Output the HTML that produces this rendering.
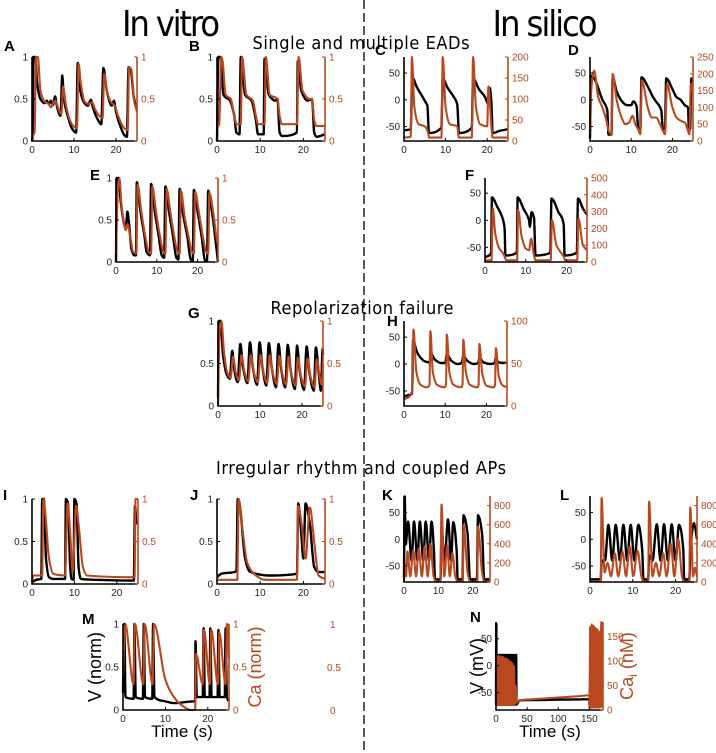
<!DOCTYPE html>
<html><head><meta charset="utf-8">
<style>
html,body{margin:0;padding:0;background:#fff;}
svg{display:block;font-family:"Liberation Sans","DejaVu Sans",sans-serif;}
</style></head>
<body>
<svg id="fig" width="716" height="753" viewBox="0 0 716 753" xmlns="http://www.w3.org/2000/svg">
<rect width="716" height="753" fill="#fff"/>
<line x1="364" y1="0" x2="364" y2="753" stroke="#000" stroke-width="1.3" stroke-dasharray="9,4"/>
<text x="171" y="36" font-size="36" text-anchor="middle" font-family="DejaVu Sans Condensed, DejaVu Sans, sans-serif" textLength="98">In vitro</text>
<text x="545" y="36" font-size="36" text-anchor="middle" font-family="DejaVu Sans Condensed, DejaVu Sans, sans-serif" textLength="105">In silico</text>
<text x="361" y="49" font-size="18" text-anchor="middle" font-family="DejaVu Sans Condensed, DejaVu Sans, sans-serif" textLength="217">Single and multiple EADs</text>
<text x="362" y="314" font-size="18" text-anchor="middle" font-family="DejaVu Sans Condensed, DejaVu Sans, sans-serif" textLength="183">Repolarization failure</text>
<text x="361" y="474" font-size="18" text-anchor="middle" font-family="DejaVu Sans Condensed, DejaVu Sans, sans-serif" textLength="290">Irregular rhythm and coupled APs</text>
<g id="panels"></g>
<text transform="translate(101,667) rotate(-90)" font-size="18" text-anchor="middle">V (norm)</text>
<text transform="translate(261,667) rotate(-90)" font-size="18" text-anchor="middle" fill="#b9481f">Ca (norm)</text>
<text x="182" y="737" font-size="17" text-anchor="middle">Time (s)</text>
<text x="330" y="628" font-size="10" fill="#b9481f">1</text>
<text x="327" y="671" font-size="10" fill="#b9481f">0.5</text>
<text x="330" y="714" font-size="10" fill="#b9481f">0</text>
<text transform="translate(483,666) rotate(-90)" font-size="18" text-anchor="middle">V (mV)</text>
<text transform="translate(633,666) rotate(-90)" font-size="18" text-anchor="middle" fill="#b9481f">Ca<tspan font-size="12" dy="4">i</tspan><tspan dy="-4"> (nM)</tspan></text>
<text x="550" y="737" font-size="17" text-anchor="middle">Time (s)</text>
</svg>
<script>
const xTicks = [0, 10, 20];
const nXTicks = [0, 50, 100, 150];
const normTicks = [0, 0.5, 1];
const mvTicks = [-50, 0, 50];
const cTicksR = [0, 50, 100, 150, 200];
const dTicksR = [0, 50, 100, 150, 200, 250];
const fTicksR = [0, 100, 200, 300, 400, 500];
const hTicksR = [0, 50, 100];
const klTicksR = [0, 200, 400, 600, 800];
const nTicksR = [0, 50, 100, 150];

const aBlack = [[0,0],[0.2,0.1],[0.3,1],[0.8,1],[1.2,0.7],[2,0.5],[3,0.45],[3.5,0.48],[4,0.44],[4.5,0.48],[5,0.43],[5.5,0.53],[6,0.4],[6.8,0.3],[7.2,0.78],[7.6,0.5],[8.5,0.3],[9.5,0.15],[10.5,0.1],[10.9,0.93],[11.5,0.6],[12.5,0.45],[13.3,0.42],[14,0.49],[14.5,0.4],[15.5,0.27],[16.5,0.2],[17,0.87],[17.8,0.6],[19,0.42],[19.5,0.48],[20,0.35],[21,0.18],[22,0.07],[22.6,0.05],[23,0.88],[23.5,0.85],[24.3,0.5],[25,0.38]];
const aOrange = [[0,0.05],[0.6,0.1],[1,1],[1.4,1],[2,0.6],[3,0.47],[4,0.44],[4.5,0.4],[5,0.45],[5.6,0.48],[6.3,0.38],[7,0.32],[7.4,0.65],[8,0.45],[9,0.25],[10,0.17],[10.7,0.15],[11.1,0.92],[11.6,0.7],[12.5,0.47],[13.5,0.44],[14.3,0.46],[15,0.38],[16,0.3],[16.8,0.27],[17.2,0.8],[17.8,0.6],[19,0.45],[19.6,0.43],[20.5,0.3],[22,0.15],[22.8,0.13],[23.1,0.88],[23.6,0.86],[24.4,0.45],[25,0.35]];
const bBlack = [[0,0],[0.3,1],[0.8,1],[1.5,0.55],[3,0.48],[4,0.3],[4.5,0.1],[5.2,0.08],[5.5,1],[6.5,0.55],[8,0.48],[9,0.25],[9.5,0.08],[10.8,0.08],[11,0.98],[12,0.55],[13.5,0.48],[14,0.5],[14.5,0.1],[15,0.06],[18.5,0.1],[18.7,0.95],[19.5,0.6],[21,0.48],[22,0.5],[22.5,0.1],[23,0.05],[25,0.08]];
const bOrange = [[0,0.15],[0.5,0.2],[1,1],[1.3,0.95],[2,0.55],[3.2,0.5],[4,0.3],[4.5,0.2],[5.5,0.2],[5.8,1],[6.8,0.55],[8.3,0.48],[9,0.3],[9.5,0.2],[11,0.2],[11.3,1],[12.2,0.55],[14,0.5],[14.5,0.3],[15,0.2],[18.5,0.2],[18.9,1],[19.8,0.6],[21.5,0.5],[22,0.5],[22.5,0.25],[23,0.18],[25,0.18]];
const cBlack = [[0,-57],[1.6,-55],[2.0,42],[3,25],[4.5,5],[5.3,-6],[5.6,-10],[6,-62],[9,-52],[9.3,40],[10.5,22],[12,5],[12.8,-8],[13.2,-62],[16.3,-52],[16.6,40],[18,20],[19.5,5],[20,-5],[20.3,-8],[20.6,22],[21,-5],[21.3,-62],[23,-58],[25,-55]];
const cOrange = [[0,8],[1.6,10],[1.9,200],[2.5,80],[3.5,40],[5,35],[5.8,20],[6,8],[9,8],[9.3,200],[10,80],[11,40],[12.8,35],[13.2,8],[16.3,8],[16.6,200],[17.3,80],[18.3,40],[20,35],[20.3,130],[21,35],[21.3,8],[25,8]];
const dBlack = [[0,-72],[0.3,45],[1,40],[3,0],[4.2,-20],[4.5,-65],[5.2,-65],[5.5,42],[6.5,15],[8,-5],[9,-10],[10,-10],[10.5,-3],[11.3,-12],[11.7,-55],[12.2,-55],[12.5,42],[14,25],[15.3,5],[16,-3],[17.3,-20],[17.7,-55],[18.2,-55],[18.5,40],[20,20],[21,5],[22,0],[23,-10],[23.8,-15],[24,-55],[24.3,-55],[24.6,40],[25,35]];
const dOrange = [[0,20],[0.3,150],[1,210],[2,130],[3,100],[4,60],[4.5,30],[5.2,20],[5.5,200],[6.5,120],[8,60],[8.5,50],[9.5,55],[10.3,75],[11,50],[11.7,35],[12.2,20],[12.6,180],[14,100],[15,70],[16,70],[17,50],[17.7,30],[18.2,20],[18.7,170],[20,100],[21,70],[22,60],[23,55],[23.8,30],[24.1,20],[24.5,170],[25,150]];
const eBlack = [[0,0],[0.2,1],[0.6,1],[1.2,0.7],[2,0.45],[2.4,0.4],[2.8,0.6],[3.2,0.45],[3.8,0.15],[4.5,0.08],[4.9,0.08],[5.1,0.95],[6,0.6],[7,0.3],[7.5,0.12],[8.3,0.08],[8.6,0.93],[9.5,0.6],[10.5,0.3],[11.2,0.08],[11.8,0.05],[12.1,0.9],[13,0.6],[14,0.3],[14.8,0.05],[15.3,0.03],[15.6,0.87],[16.5,0.55],[17.5,0.3],[18.3,0.03],[18.8,0.01],[19.1,0.86],[20,0.6],[21,0.3],[21.8,0.02],[22.3,0.01],[22.6,0.85],[23.5,0.6],[24.3,0.3],[25,0]];
const eOrange = [[0,0.1],[0.5,0.9],[0.8,1],[1.4,0.65],[2,0.45],[2.4,0.38],[2.8,0.45],[3.5,0.3],[4.2,0.12],[5,0.1],[5.3,0.92],[6.2,0.6],[7.2,0.3],[8,0.12],[8.6,0.1],[8.9,0.9],[9.8,0.6],[10.8,0.3],[11.6,0.12],[12.1,0.1],[12.4,0.87],[13.3,0.6],[14.3,0.3],[15.1,0.12],[15.6,0.1],[15.9,0.85],[16.8,0.55],[17.8,0.3],[18.6,0.12],[19.1,0.1],[19.4,0.83],[20.3,0.6],[21.3,0.3],[22.1,0.12],[22.6,0.1],[22.9,0.82],[23.8,0.6],[24.6,0.3],[25,0.2]];
const fBlack = [[0,-68],[1,-65],[1.5,-60],[1.7,42],[3,25],[4,10],[4.8,-15],[5,-65],[7.8,-60],[8,42],[9.5,20],[10.8,0],[11,-12],[11.4,15],[12,5],[12.4,-65],[16,-60],[16.3,40],[18,15],[19.3,-8],[19.5,-65],[22.5,-60],[22.8,40],[24,22],[25,10]];
const fOrange = [[0,10],[1.6,10],[1.9,320],[2.5,170],[3.5,80],[4.5,50],[5,20],[5.2,10],[7.9,10],[8.1,310],[9,150],[10,80],[10.8,70],[11.3,140],[12,40],[12.4,10],[16.1,10],[16.4,250],[17.5,100],[18.5,60],[19.5,20],[19.6,10],[22.6,10],[22.9,260],[24,100],[25,70]];
const gBlack = [[0,0.1],[0.2,1],[0.6,1],[1.2,0.6],[2,0.38],[2.8,0.32],[3.4,0.65],[3.8,0.45],[4.7,0.28],[5.3,0.73],[6,0.45],[7,0.27],[7.6,0.75],[8.3,0.45],[9.3,0.25],[9.9,0.75],[10.6,0.45],[11.5,0.24],[12.1,0.74],[12.8,0.45],[13.8,0.22],[14.4,0.73],[15.1,0.42],[16,0.22],[16.6,0.72],[17.3,0.42],[18.3,0.2],[18.8,0.71],[19.5,0.4],[20.5,0.19],[21.1,0.7],[21.8,0.38],[22.8,0.18],[23.3,0.69],[24,0.38],[24.5,0.18],[24.9,0.67],[25,0.6]];
const gOrange = [[0,0],[0.4,0.9],[0.8,1],[1.5,0.6],[2.3,0.38],[3,0.33],[3.6,0.58],[4.2,0.4],[5,0.3],[5.6,0.6],[6.3,0.4],[7.2,0.29],[7.8,0.6],[8.5,0.4],[9.5,0.28],[10.1,0.6],[10.8,0.4],[11.7,0.27],[12.3,0.6],[13,0.39],[14,0.26],[14.6,0.59],[15.3,0.38],[16.2,0.25],[16.8,0.58],[17.5,0.37],[18.5,0.24],[19,0.57],[19.7,0.36],[20.7,0.23],[21.3,0.56],[22,0.35],[23,0.22],[23.5,0.55],[24.2,0.35],[24.7,0.25],[25,0.5]];
const hBlack = [[0,-60],[1,-58],[2,-55],[2.2,45],[3,25],[4,12],[5,5],[6,3],[6.2,2],[6.5,20],[7.5,8],[9,2],[10,2],[10.4,18],[11.5,6],[13,0],[14,2],[14.4,15],[15.5,5],[17,0],[18,2],[18.3,12],[19.3,3],[21,0],[22,2],[22.2,10],[23,3],[24.5,2],[25,3]];
const hOrange = [[0,8],[1,10],[2,18],[2.3,90],[3,40],[4,25],[5.5,22],[6.2,25],[6.4,88],[7,40],[8,25],[9.8,22],[10.2,25],[10.4,84],[11,40],[12,25],[13.8,22],[14.2,25],[14.4,78],[15,40],[16,25],[17.8,22],[18.1,25],[18.3,73],[19,38],[20,24],[21.8,22],[22.1,25],[22.3,68],[23,35],[24,24],[25,22]];
const iBlack = [[0,0.02],[1,0.05],[2.2,0.06],[2.4,1],[2.8,1],[3.3,0.3],[4,0.08],[5,0.06],[7.8,0.06],[8,1],[8.5,0.95],[9,0.2],[9.3,0.06],[9.8,0.05],[10,1],[10.5,0.95],[11,0.2],[11.5,0.06],[15,0.05],[24,0.04],[24.3,0.92],[24.6,0.7]];
const iOrange = [[0,0.02],[0.3,0.1],[2.4,0.1],[2.7,1],[3.2,0.8],[4,0.3],[5,0.12],[7.8,0.1],[8.4,0.95],[9,0.6],[9.6,0.15],[10.4,0.92],[11,0.7],[12,0.2],[13,0.1],[24.2,0.08],[24.4,1],[25,1]];
const jBlack = [[0,0.08],[1,0.12],[4.5,0.15],[4.8,1],[5.2,0.95],[6.5,0.3],[7.5,0.15],[9,0.12],[12,0.1],[18.5,0.12],[18.8,0.95],[19.5,0.6],[20,0.3],[20.5,0.95],[21.5,0.7],[22.5,0.2],[23.5,0.14],[25,0.14]];
const jOrange = [[0,0.05],[4.7,0.05],[5,1],[6,0.6],[7,0.25],[9,0.1],[11,0.05],[18.5,0.05],[18.8,0.92],[19.6,0.7],[20.5,0.3],[21.5,0.9],[22.5,0.5],[23.5,0.1],[25,0.06]];
const kBlack = [[0,-72],[0.2,80],[0.5,-10],[1.2,33],[2.2,-40],[2.9,33],[3.9,-40],[4.6,33],[5.6,-40],[6.3,33],[7.3,-40],[8,33],[8.7,-20],[9,-75],[10.6,-75],[10.9,20],[11.8,-40],[12.8,37],[13.7,-40],[14.3,32],[15.3,-20],[15.6,-75],[17,-75],[17.3,45],[18.5,10],[19.2,-75],[21.2,-75],[21.5,45],[22.7,10],[23.3,-75],[25,-75]];
const kOrange = [[0,0],[0.2,200],[0.6,60],[1,320],[1.8,60],[2.7,330],[3.5,60],[4.3,350],[5.2,60],[6,370],[6.9,60],[7.7,400],[8.6,60],[9.2,10],[10.6,5],[10.9,810],[11.7,60],[12.6,380],[13.3,60],[14.1,300],[14.9,60],[15.6,5],[17.1,5],[17.3,600],[18.5,100],[19.2,5],[21.3,5],[21.5,580],[22.7,100],[23.3,5],[25,5]];
const lBlack = [[0,-75],[2.5,-75],[2.7,-40],[3.5,-40],[4.3,27],[5.2,-40],[6,27],[7,-40],[7.8,27],[8.7,-40],[9.5,27],[10.4,-40],[11.3,27],[12.2,-20],[12.5,-75],[13.6,-75],[13.8,-30],[14.6,-40],[15.6,28],[16.5,-40],[17.3,28],[18.2,-40],[19.1,28],[20,-40],[20.8,27],[21.8,-20],[22,-75],[23.2,-75],[23.4,-30],[24.3,30],[25,0]];
const lOrange = [[0,5],[2.5,10],[2.7,880],[3.4,100],[4.1,200],[4.9,60],[5.8,300],[6.6,60],[7.6,320],[8.4,60],[9.3,370],[10.1,60],[11.1,330],[12,60],[12.5,5],[13.6,5],[13.8,840],[14.6,60],[15.4,200],[16.2,60],[17.1,300],[17.9,60],[18.9,400],[19.7,60],[20.6,450],[21.5,60],[22,5],[23.2,5],[23.4,780],[24.1,60],[24.5,150],[25,60]];
const mBlack = [[0,0.2],[0.3,1],[0.6,0.15],[2.5,0.13],[2.7,1],[3,0.15],[4.7,0.13],[4.9,1],[5.2,0.15],[6.9,0.13],[7.1,1],[7.4,0.15],[10,0.1],[12,0.08],[16.5,0.1],[17,0.1],[17.1,0.8],[17.4,0.15],[18.8,0.15],[19,0.95],[19.3,0.15],[20.4,0.15],[20.6,0.95],[20.9,0.15],[22.3,0.15],[22.5,0.93],[22.8,0.15],[24,0.15],[24.2,0.95],[24.5,0.15],[25,0.1]];
const mOrange = [[0,0.4],[0.5,1],[2.5,0.3],[2.8,1],[4.8,0.3],[5.1,1],[7,0.3],[7.3,1],[10,0.35],[12,0.15],[14,0.05],[16,0],[17,0],[17.2,0.65],[18.8,0.3],[19.1,0.93],[20.5,0.3],[20.8,0.93],[22.4,0.3],[22.7,0.9],[24.2,0.3],[24.5,1],[25,0.6]];
const nBlack = [[0,-70],[0.5,78],[1,-72],[2.5,20],[3,-72],[5,20],[5.5,-72],[7.5,20],[8,-72],[10,20],[10.5,-72],[12.5,20],[13,-72],[15,20],[15.5,-72],[17.5,20],[18,-72],[20,20],[20.5,-72],[22.5,20],[23,-72],[25,20],[25.5,-72],[27.5,20],[28,-72],[30,20],[30.5,-72],[32.5,20],[33,-72],[38,-64],[60,-63.6],[94,-63],[130,-62.4],[150,-62],[150.5,-75],[152,15],[152.5,-72],[155,15],[155.5,-72],[158,15],[158.5,-72],[161,15],[161.5,-72],[164,15],[164.5,-72],[167,15],[167.5,-72],[170,15],[170.5,-72]];
const nOrange = [[0,10],[1.5,110],[2.5,10],[4,110],[5,10],[6.5,110],[7.5,10],[9,108],[10,10],[11.5,108],[12.5,10],[14,105],[15,10],[16.5,105],[17.5,10],[19,103],[20,10],[21.5,100],[22.5,10],[24,98],[25,10],[26.5,95],[27.5,10],[29,90],[30,12],[31.5,50],[33,15],[38,20],[60,22],[94,25],[130,28],[150,30],[150.5,5],[151.5,170],[152.5,5],[154,175],[155,5],[157,172],[158,5],[160,168],[161,5],[163,165],[164,5],[166,160],[167,5],[169.5,180],[170.5,5]];

const ORANGE = '#b9481f';
const NS = 'http://www.w3.org/2000/svg';
const root = document.getElementById('panels');

function mk(tag, attrs, parent) {
  const e = document.createElementNS(NS, tag);
  for (const k in attrs) e.setAttribute(k, attrs[k]);
  parent.appendChild(e);
  return e;
}

// monotone cubic path (Fritsch-Carlson), no overshoot
function smoothPath(pts) {
  const n = pts.length;
  if (n < 3) return 'M' + pts.map(p => p[0].toFixed(1) + ',' + p[1].toFixed(1)).join('L');
  const dx = [], m = [], s = [];
  for (let i = 0; i < n - 1; i++) {
    dx.push(Math.max(pts[i + 1][0] - pts[i][0], 1e-6));
    s.push((pts[i + 1][1] - pts[i][1]) / dx[i]);
  }
  m.push(s[0]);
  for (let i = 1; i < n - 1; i++) {
    if (s[i - 1] * s[i] <= 0) m.push(0);
    else {
      const w1 = 2 * dx[i] + dx[i - 1], w2 = dx[i] + 2 * dx[i - 1];
      m.push((w1 + w2) / (w1 / s[i - 1] + w2 / s[i]));
    }
  }
  m.push(s[n - 2]);
  let d = 'M' + pts[0][0].toFixed(1) + ',' + pts[0][1].toFixed(1);
  for (let i = 0; i < n - 1; i++) {
    const h = dx[i] / 3;
    d += 'C' + (pts[i][0] + h).toFixed(1) + ',' + (pts[i][1] + m[i] * h).toFixed(1) + ' ' +
      (pts[i + 1][0] - h).toFixed(1) + ',' + (pts[i + 1][1] - m[i + 1] * h).toFixed(1) + ' ' +
      pts[i + 1][0].toFixed(1) + ',' + pts[i + 1][1].toFixed(1);
  }
  return d;
}

function drawPanel(p) {
  const g = mk('g', {}, root);
  
  
  const sx = t => p.x0 + t / p.tmax * (p.x1 - p.x0);
  const syL = v => p.y1 - (v - p.lmin) / (p.lmax - p.lmin) * (p.y1 - p.y0);
  const syR = v => p.y1 - v / p.rmax * (p.y1 - p.y0);

  const lt = mk('text', {x: p.lx, y: p.ly, 'font-size': 15, 'font-weight': 'bold'}, g);
  
  
  lt.textContent = p.id.toUpperCase();

  const bl = mk('path', {d: smoothPath(p.black.map(d => [sx(d[0]), syL(d[1])])), fill: 'none', stroke: '#000', 'stroke-width': 2.4, 'stroke-linejoin': 'round'}, g);
  
  
  const ob = mk('path', {d: smoothPath(p.orange.map(d => [sx(d[0]), syR(d[1])])), fill: 'none', stroke: ORANGE, 'stroke-width': 2.1, 'stroke-linejoin': 'round'}, g);
  
  

  const ax = mk('path', {d: `M${p.x0},${p.y0}V${p.y1}H${p.x1}`, fill: 'none', stroke: '#000', 'stroke-width': 1.6}, g);
  
  
  const ar = mk('line', {x1: p.x1, y1: p.y0, x2: p.x1, y2: p.y1, stroke: ORANGE, 'stroke-width': 1.6}, g);
  
  

  p.xt.forEach(v => {
    const x = sx(v);
    mk('line', {x1: x, y1: p.y1, x2: x, y2: p.y1 - 3, stroke: '#000', 'stroke-width': 1}, g);
    const t = mk('text', {x: x, y: p.y1 + 12, 'font-size': 10, 'text-anchor': 'middle', fill: '#262626'}, g);
    
    
    t.textContent = v;
  });
  p.lt.forEach(v => {
    const y = syL(v);
    mk('line', {x1: p.x0, y1: y, x2: p.x0 + 3, y2: y, stroke: '#000', 'stroke-width': 1}, g);
    const t = mk('text', {x: p.x0 - 4, y: y + 3.5, 'font-size': 10, 'text-anchor': 'end', fill: '#262626'}, g);
    
    
    t.textContent = v;
  });
  p.rt.forEach(v => {
    const y = syR(v);
    mk('line', {x1: p.x1, y1: y, x2: p.x1 - 3, y2: y, stroke: ORANGE, 'stroke-width': 1}, g);
    const t = mk('text', {x: p.x1 + 4, y: y + 3.5, 'font-size': 10, fill: ORANGE}, g);
    
    
    t.textContent = v;
  });
}

const panels = [
  {id:'a', lx:4, ly:51, x0:32, x1:137, y0:57, y1:141, tmax:25, lmin:0, lmax:1, rmax:1, xt:xTicks, lt:normTicks, rt:normTicks, black:aBlack, orange:aOrange},
  {id:'b', lx:189, ly:51, x0:217, x1:325, y0:57, y1:141, tmax:25, lmin:0, lmax:1, rmax:1, xt:xTicks, lt:normTicks, rt:normTicks, black:bBlack, orange:bOrange},
  {id:'c', lx:375, ly:55, x0:404, x1:508, y0:57, y1:141, tmax:25, lmin:-77, lmax:80, rmax:200, xt:xTicks, lt:mvTicks, rt:cTicksR, black:cBlack, orange:cOrange},
  {id:'d', lx:568, ly:55, x0:590, x1:693, y0:57, y1:141, tmax:25, lmin:-77, lmax:80, rmax:250, xt:xTicks, lt:mvTicks, rt:dTicksR, black:dBlack, orange:dOrange},
  {id:'e', lx:90, ly:180, x0:116, x1:218, y0:178, y1:262, tmax:25, lmin:0, lmax:1, rmax:1, xt:xTicks, lt:normTicks, rt:normTicks, black:eBlack, orange:eOrange},
  {id:'f', lx:465, ly:180, x0:485, x1:587, y0:178, y1:262, tmax:25, lmin:-77, lmax:78, rmax:500, xt:xTicks, lt:mvTicks, rt:fTicksR, black:fBlack, orange:fOrange},
  {id:'g', lx:188, ly:318, x0:218, x1:323, y0:321, y1:406, tmax:25, lmin:0, lmax:1, rmax:1, xt:xTicks, lt:normTicks, rt:normTicks, black:gBlack, orange:gOrange},
  {id:'h', lx:387, ly:326, x0:404, x1:507, y0:321, y1:406, tmax:25, lmin:-78, lmax:80, rmax:100, xt:xTicks, lt:mvTicks, rt:hTicksR, black:hBlack, orange:hOrange},
  {id:'i', lx:3, ly:500, x0:32, x1:138, y0:499, y1:584, tmax:25, lmin:0, lmax:1, rmax:1, xt:xTicks, lt:normTicks, rt:normTicks, black:iBlack, orange:iOrange},
  {id:'j', lx:190, ly:500, x0:217, x1:325, y0:499, y1:584, tmax:25, lmin:0, lmax:1, rmax:1, xt:xTicks, lt:normTicks, rt:normTicks, black:jBlack, orange:jOrange},
  {id:'k', lx:382, ly:500, x0:404, x1:490, y0:496, y1:582, tmax:25, lmin:-80, lmax:81, rmax:900, xt:xTicks, lt:mvTicks, rt:klTicksR, black:kBlack, orange:kOrange},
  {id:'l', lx:560, ly:500, x0:590, x1:697, y0:496, y1:582, tmax:25, lmin:-80, lmax:81, rmax:900, xt:xTicks, lt:mvTicks, rt:klTicksR, black:lBlack, orange:lOrange},
  {id:'m', lx:82, ly:624, x0:123, x1:229, y0:624, y1:710, tmax:25, lmin:0, lmax:1, rmax:1, xt:xTicks, lt:normTicks, rt:normTicks, black:mBlack, orange:mOrange},
  {id:'n', lx:470, ly:622, x0:496, x1:603, y0:622, y1:710, tmax:172, lmin:-82, lmax:81, rmax:180, xt:nXTicks, lt:mvTicks, rt:nTicksR, black:nBlack, orange:nOrange}
];
panels.forEach(drawPanel);
</script>
</body></html>
